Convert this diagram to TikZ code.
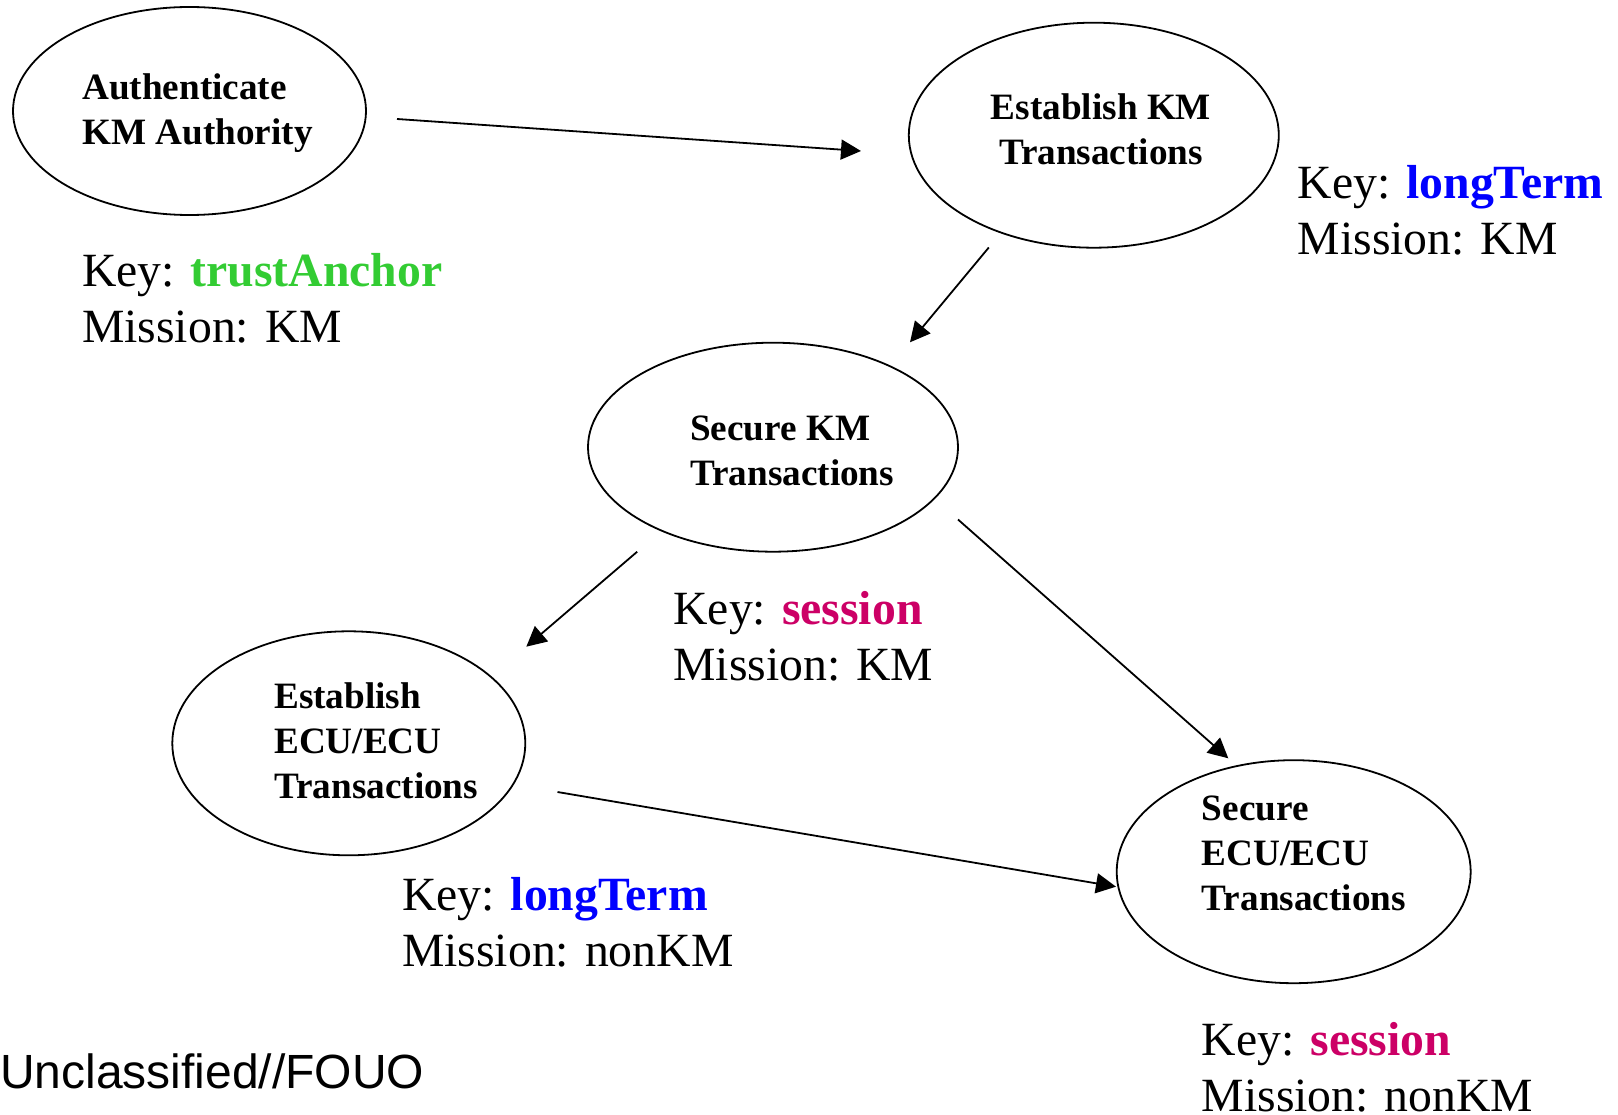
\documentclass[tikz,border=0pt]{standalone}
\usepackage{fontspec}
\setmainfont{Liberation Serif}
\newfontfamily\arialfont{Liberation Sans}
\usetikzlibrary{arrows.meta,shapes.geometric}
\definecolor{cgreen}{RGB}{51,204,51}
\definecolor{cblue}{RGB}{0,0,255}
\definecolor{cmag}{RGB}{204,0,102}
\tikzset{
  proc/.style={draw=black, line width=1.8pt, ellipse, inner sep=0pt},
  ptext/.style={inner sep=0pt, align=left, anchor=base west,
    font=\fontsize{37.2}{45}\selectfont\bfseries},
  ptextc/.style={inner sep=0pt, align=center, anchor=base,
    font=\fontsize{37.2}{45}\selectfont\bfseries},
  ktext/.style={inner sep=0pt, align=left, anchor=base west,
    font=\fontsize{47.7}{56}\selectfont},
  arr/.style={line width=1.8pt, -{Triangle[length=20pt,width=20pt]}}
}
\begin{document}
\begin{tikzpicture}[x=1pt,y=-1pt]
\useasboundingbox (0,0) rectangle (1618,1115);
% ellipses
\node[proc, minimum width=353pt, minimum height=208pt] (e1) at (189.5,111) {};
\node[proc, minimum width=370pt, minimum height=225pt] (e2) at (1093.8,135.2) {};
\node[proc, minimum width=370pt, minimum height=209pt] (e3) at (773,447.2) {};
\node[proc, minimum width=353pt, minimum height=224pt] (e4) at (348.8,743.3) {};
\node[proc, minimum width=354pt, minimum height=223pt] (e5) at (1293.7,871.7) {};
% ellipse texts (anchor = baseline of last line)
\node[ptext] (t1) at (82,145) {Authenticate\\KM Authority};
\node[ptextc] (t2) at (1101,165) {Establish KM\\Transactions};
\node[ptext] (t3) at (690,485) {Secure KM\\Transactions};
\node[ptext] (t4) at (274,798) {Establish\\ECU/ECU\\Transactions};
\node[ptext] (t5) at (1201.7,910) {Secure\\ECU/ECU\\Transactions};
% key labels
\node[ktext] (k1) at (82,343) {Key: {\bfseries\color{cgreen}trustAnchor}\\Mission: KM};
\node[ktext] (k2) at (1297.6,255) {Key: {\bfseries\color{cblue}longTerm}\\Mission: KM};
\node[ktext] (k3) at (673.3,680) {Key: {\bfseries\color{cmag}session}\\Mission: KM};
\node[ktext] (k4) at (402,966.7) {Key: {\bfseries\color{cblue}longTerm}\\Mission: nonKM};
\node[ktext] (k5) at (1201.7,1111.7) {Key: {\bfseries\color{cmag}session}\\Mission: nonKM};
\node[inner sep=0pt, anchor=base west, font=\arialfont\fontsize{48}{56}\selectfont] (foot) at (0,1088) {Unclassified//FOUO};
% arrow endpoints
\coordinate (a1s) at (397,119);
\coordinate (a1e) at (861,151);
\coordinate (a2s) at (988.8,247.5);
\coordinate (a2e) at (910,342.3);
\coordinate (a3s) at (637.2,551.7);
\coordinate (a3e) at (526.3,646.7);
\coordinate (a4s) at (958,519.5);
\coordinate (a4e) at (1228.3,758.3);
\coordinate (a5s) at (557.5,792);
\coordinate (a5e) at (1116,886.7);
\draw[arr] (a1s) -- (a1e);
\draw[arr] (a2s) -- (a2e);
\draw[arr] (a3s) -- (a3e);
\draw[arr] (a4s) -- (a4e);
\draw[arr] (a5s) -- (a5e);
\end{tikzpicture}
\end{document}
